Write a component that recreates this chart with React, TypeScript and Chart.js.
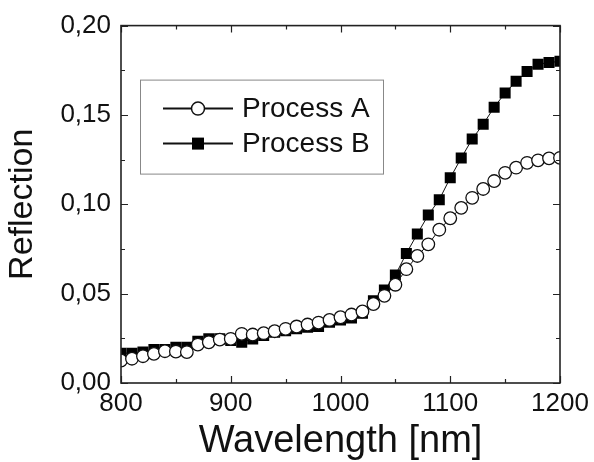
import { useEffect, useRef } from "react";
import { Chart, registerables } from "chart.js";

Chart.register(...registerables);

const wavelengths = [
  800, 810, 820, 830, 840, 850, 860, 870, 880, 890,
  900, 910, 920, 930, 940, 950, 960, 970, 980, 990,
  1000, 1010, 1020, 1030, 1040, 1050, 1060, 1070, 1080, 1090,
  1100, 1110, 1120, 1130, 1140, 1150, 1160, 1170, 1180, 1190,
  1200,
];

const processA = [
  0.0126, 0.0136, 0.015, 0.0163, 0.0178, 0.0176, 0.0173, 0.0215, 0.0228, 0.0243,
  0.0247, 0.0275, 0.0271, 0.0279, 0.029, 0.0303, 0.0316, 0.0327, 0.0338, 0.0353,
  0.0368, 0.0383, 0.04, 0.0442, 0.0488, 0.055, 0.0637, 0.0711, 0.0776, 0.0858,
  0.0922, 0.098, 0.1036, 0.1086, 0.113, 0.1176, 0.1205, 0.1232, 0.1246, 0.1257,
  0.126,
];

const processB = [
  0.0167, 0.0167, 0.0173, 0.0188, 0.0188, 0.02, 0.02, 0.0234, 0.0247, 0.0247,
  0.0238, 0.0228, 0.0247, 0.0266, 0.0284, 0.0293, 0.0303, 0.0312, 0.0316, 0.034,
  0.0353, 0.0364, 0.039, 0.046, 0.052, 0.0604, 0.0725, 0.0834, 0.094, 0.1026,
  0.1148, 0.1259, 0.1365, 0.1448, 0.1543, 0.1623, 0.1688, 0.1743, 0.1784, 0.1793,
  0.18,
];

const seriesLabels = ["Process A", "Process B"];
const xMajorTicks = [800, 900, 1000, 1100, 1200];
const xMinorTicks = [850, 950, 1050, 1150];
const yMajorTicks = [0, 0.05, 0.1, 0.15, 0.2];
const yMinorTicks = [0.025, 0.075, 0.125, 0.175];
const xTitle = "Wavelength [nm]";
const yTitle = "Reflection";

const FONT = "'Liberation Sans', Arial, Helvetica, sans-serif";
const INK = "#111";

const framePlugin = {
  id: "frame",
  afterDatasetsDraw(chart: any) {
    const { ctx, chartArea, scales } = chart;
    const { left, right, top, bottom } = chartArea;
    const x = scales.x;
    const y = scales.y;
    ctx.save();
    ctx.strokeStyle = "#222";
    ctx.lineWidth = 1.2;
    ctx.beginPath();
    const xt = (vals: number[], len: number) => {
      for (const v of vals) {
        const px = Math.round(x.getPixelForValue(v)) + 0.5;
        ctx.moveTo(px, bottom);
        ctx.lineTo(px, bottom - len);
        ctx.moveTo(px, top);
        ctx.lineTo(px, top + len);
      }
    };
    const yt = (vals: number[], len: number) => {
      for (const v of vals) {
        const py = Math.round(y.getPixelForValue(v)) + 0.5;
        ctx.moveTo(left, py);
        ctx.lineTo(left + len, py);
        ctx.moveTo(right, py);
        ctx.lineTo(right - len, py);
      }
    };
    xt(xMajorTicks, 7);
    xt(xMinorTicks, 4);
    yt(yMajorTicks, 7);
    yt(yMinorTicks, 4);
    ctx.stroke();
    ctx.lineWidth = 1.6;
    ctx.strokeRect(left, top, right - left, bottom - top);
    ctx.restore();
  },
};

const legendPlugin = {
  id: "boxLegend",
  afterDraw(chart: any) {
    const { ctx, chartArea } = chart;
    const { left, top } = chartArea;
    const bx = left + 19;
    const by = top + 54;
    ctx.save();
    ctx.fillStyle = "#fff";
    ctx.fillRect(bx, by, 243, 94);
    ctx.strokeStyle = "#888";
    ctx.lineWidth = 1;
    ctx.strokeRect(bx + 0.5, by + 0.5, 243, 94);
    const rows = [top + 83, top + 118];
    chart.data.datasets.forEach((ds: any, i: number) => {
      const cy = rows[i];
      ctx.strokeStyle = "#111";
      ctx.lineWidth = 2;
      ctx.beginPath();
      ctx.moveTo(left + 42, cy);
      ctx.lineTo(left + 112, cy);
      ctx.stroke();
      const mx = left + 77;
      ctx.fillStyle = ds.pointBackgroundColor;
      ctx.strokeStyle = ds.pointBorderColor;
      ctx.lineWidth = 1.5;
      if (ds.pointStyle === "circle") {
        ctx.beginPath();
        ctx.arc(mx, cy, 6.5, 0, Math.PI * 2);
        ctx.fill();
        ctx.stroke();
      } else {
        ctx.fillRect(mx - 6, cy - 6, 12, 12);
      }
      ctx.fillStyle = INK;
      ctx.font = `28px ${FONT}`;
      ctx.textBaseline = "middle";
      ctx.textAlign = "left";
      ctx.fillText(ds.label, left + 121, cy + 1);
    });
    ctx.restore();
  },
};

export default function App() {
  const canvasRef = useRef<HTMLCanvasElement | null>(null);

  useEffect(() => {
    const canvas = canvasRef.current;
    if (!canvas) return;
    const chart = new Chart(canvas, {
      type: "line",
      data: {
        datasets: [
          {
            label: seriesLabels[0],
            data: wavelengths.map((w, i) => ({ x: w, y: processA[i] })),
            borderColor: "#111",
            borderWidth: 1,
            pointStyle: "circle",
            pointRadius: 6.3,
            pointBorderWidth: 1.3,
            pointBackgroundColor: "#fff",
            pointBorderColor: "#111",
            clip: 0,
          },
          {
            label: seriesLabels[1],
            data: wavelengths.map((w, i) => ({ x: w, y: processB[i] })),
            borderColor: "#111",
            borderWidth: 1,
            pointStyle: "rect",
            pointRadius: 7.8,
            pointBorderWidth: 0,
            pointBackgroundColor: "#000",
            pointBorderColor: "#000",
            clip: 0,
          },
        ],
      },
      options: {
        animation: false,
        responsive: false,
        layout: { padding: { top: 24, right: 34, left: 0, bottom: 0 } },
        plugins: {
          legend: { display: false },
          tooltip: { enabled: false },
        },
        scales: {
          x: {
            type: "linear",
            min: 800,
            max: 1200,
            afterFit: (s: any) => {
              s.height = 79;
            },
            grid: { display: false, drawTicks: false },
            border: { display: false },
            ticks: {
              stepSize: 100,
              padding: 5,
              color: INK,
              font: { family: FONT, size: 26 },
              maxRotation: 0,
              callback: (v: any) => String(v),
            },
            title: {
              display: true,
              text: xTitle,
              color: INK,
              font: { family: FONT, size: 38, lineHeight: 1 },
              padding: { top: 0, bottom: 1 },
            },
          },
          y: {
            type: "linear",
            min: 0,
            max: 0.2,
            afterFit: (s: any) => {
              s.width = 121;
            },
            grid: { display: false, drawTicks: false },
            border: { display: false },
            ticks: {
              stepSize: 0.05,
              padding: 10,
              color: INK,
              font: { family: FONT, size: 26 },
              callback: (v: any) => Number(v).toFixed(2).replace(".", ","),
            },
            title: {
              display: true,
              text: yTitle,
              color: INK,
              font: { family: FONT, size: 34, lineHeight: 1 },
              padding: { top: 6, bottom: 0 },
            },
          },
        },
      },
      plugins: [framePlugin, legendPlugin],
    });
    return () => chart.destroy();
  }, []);

  return (
    <div style={{ position: "absolute", left: 0, top: 0, width: 594, height: 462, background: "#fff" }}>
      <canvas ref={canvasRef} width={594} height={462} style={{ display: "block" }} />
    </div>
  );
}
